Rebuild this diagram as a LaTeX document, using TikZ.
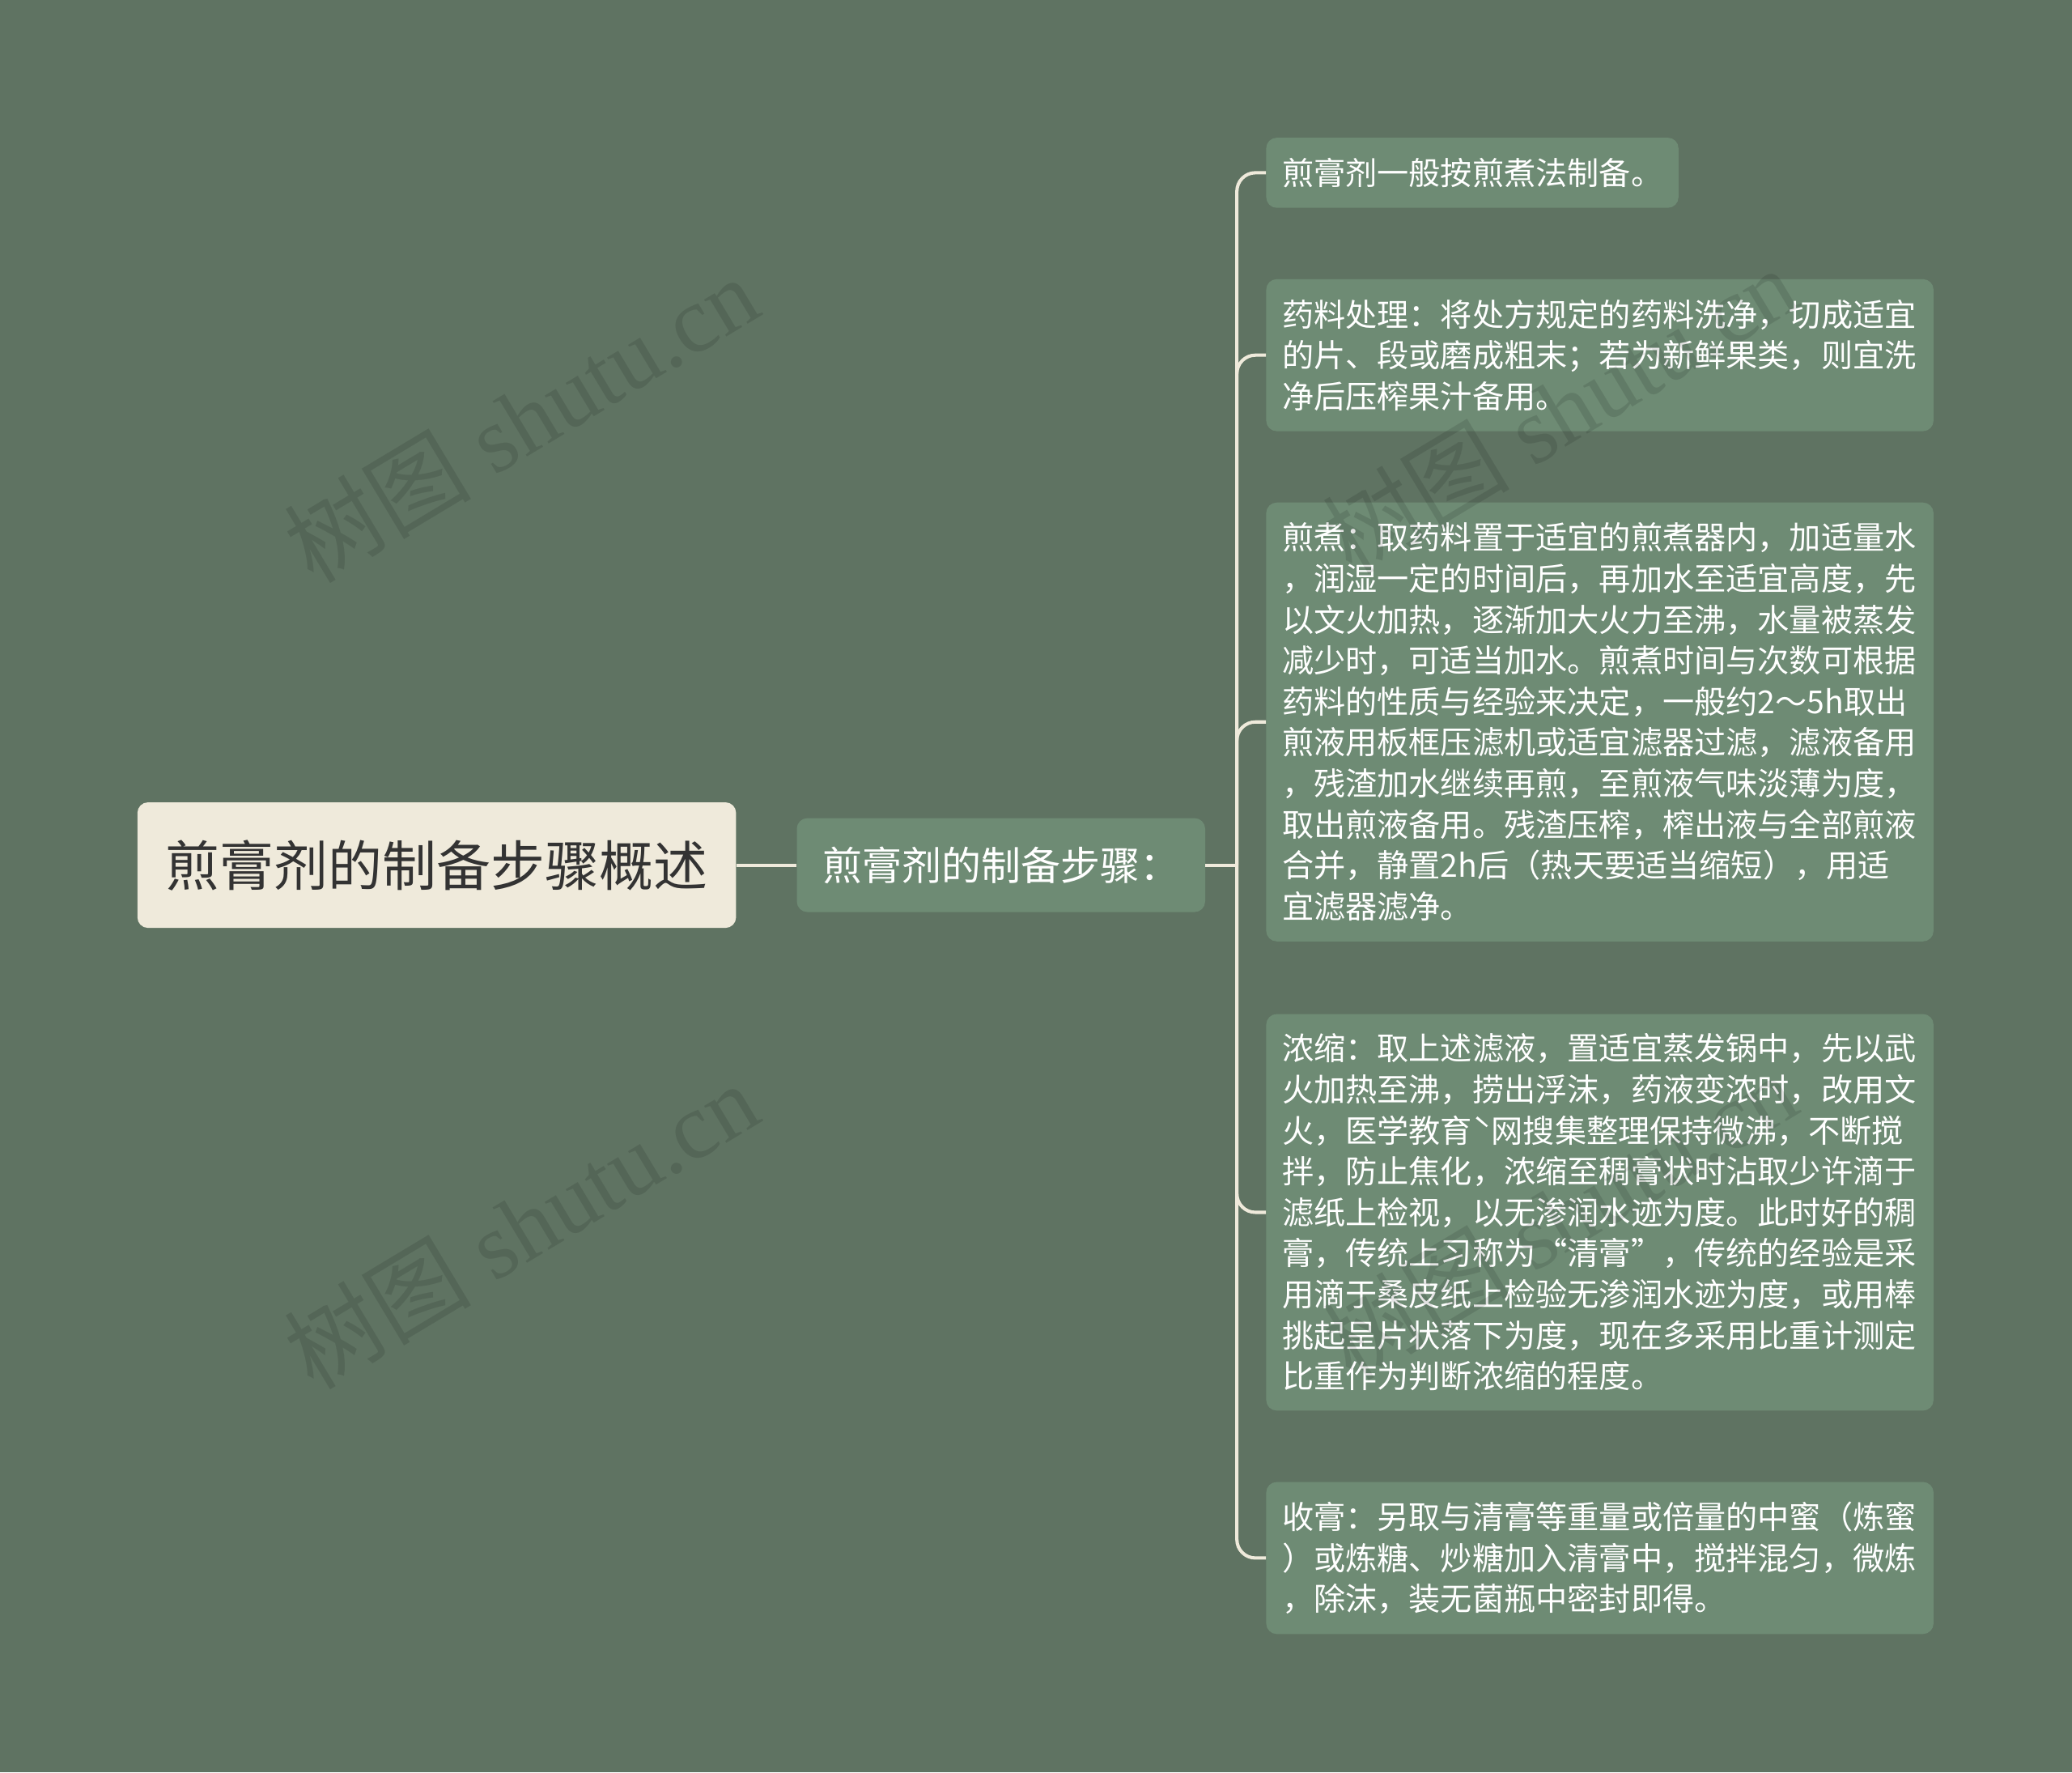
\documentclass[tikz,border=0pt]{standalone}
\usepackage{fontspec}
\newfontfamily\cjk{Noto Sans CJK SC}
\newfontfamily\wmserif{Liberation Serif}
\definecolor{bg}{HTML}{5F7362}
\definecolor{boxg}{HTML}{6E8B74}
\definecolor{cream}{HTML}{EFEADB}
\definecolor{darktext}{HTML}{333333}
\begin{document}
\begin{tikzpicture}[x=1pt,y=-1pt,
  leaf/.style={fill=boxg, rounded corners=8pt, text=white,
    font=\cjk\fontsize{24}{31}\selectfont, align=left,
    inner xsep=12pt, inner ysep=0pt, anchor=north west},
  rootbox/.style={fill=cream, rounded corners=8pt, text=darktext,
    font=\cjk\fontsize{41}{48}\selectfont, minimum width=453pt, minimum height=95pt, inner sep=0pt},
  midbox/.style={fill=boxg, rounded corners=8pt, text=white,
    font=\cjk\fontsize{30}{36}\selectfont, minimum width=309pt, minimum height=71pt, inner sep=0pt},
  link/.style={draw=cream, line width=2.5pt, rounded corners=14pt},
  wm/.style={text=black, opacity=0.11, rotate=31,
    font=\wmserif\fontsize{71}{71}\selectfont, inner sep=0pt}]
\useasboundingbox (0,0) rectangle (1568,1341);
\fill[bg] (0,0) rectangle (1568,1341);

\node[rootbox] (root) at (330.5,654.5) {煎膏剂的制备步骤概述};
\node[midbox] (mid) at (757.5,654.5) {煎膏剂的制备步骤：};

\node[leaf, text width=288pt, minimum height=53pt] (l1) at (958,104) {煎膏剂一般按煎煮法制备。};
\node[leaf, text width=481pt, minimum height=115pt] (l2) at (958,211) {药料处理：将处方规定的药料洗净，切成适宜\\的片、段或磨成粗末；若为新鲜果类，则宜洗\\净后压榨果汁备用。};
\node[leaf, text width=481pt, minimum height=332pt] (l3) at (958,380) {煎煮：取药料置于适宜的煎煮器内，加适量水\\，润湿一定的时间后，再加水至适宜高度，先\\以文火加热，逐渐加大火力至沸，水量被蒸发\\减少时，可适当加水。煎煮时间与次数可根据\\药料的性质与经验来决定，一般约2～5h取出\\煎液用板框压滤机或适宜滤器过滤，滤液备用\\，残渣加水继续再煎，至煎液气味淡薄为度，\\取出煎液备用。残渣压榨，榨出液与全部煎液\\合并，静置2h后（热天要适当缩短），用适\\宜滤器滤净。};
\node[leaf, text width=481pt, minimum height=300pt] (l4) at (958,767) {浓缩：取上述滤液，置适宜蒸发锅中，先以武\\火加热至沸，捞出浮沫，药液变浓时，改用文\\火，医学教育ˋ网搜集整理保持微沸，不断搅\\拌，防止焦化，浓缩至稠膏状时沾取少许滴于\\滤纸上检视，以无渗润水迹为度。此时好的稠\\膏，传统上习称为“清膏”，传统的经验是采\\用滴于桑皮纸上检验无渗润水迹为度，或用棒\\挑起呈片状落下为度，现在多采用比重计测定\\比重作为判断浓缩的程度。};
\node[leaf, text width=481pt, minimum height=115pt] (l5) at (958,1121) {收膏：另取与清膏等重量或倍量的中蜜（炼蜜\\）或炼糖、炒糖加入清膏中，搅拌混匀，微炼\\，除沫，装无菌瓶中密封即得。};

\coordinate (J) at (936,654.5);
\draw[link] (root.east) -- (mid.west);
\draw[link] (mid.east) -- (J);
\foreach \n in {l1,l2,l3,l4,l5} {
  \draw[link] (J) |- (\n.west);
}

\node[wm] (w1) at (394,317) {{\cjk 树图} shutu.cn};
\node[wm] (w2) at (394,927) {{\cjk 树图} shutu.cn};
\node[wm] (w3) at (1180,310) {{\cjk 树图} shutu.cn};
\node[wm] (w4) at (1180,920) {{\cjk 树图} shutu.cn};
\end{tikzpicture}
\end{document}
